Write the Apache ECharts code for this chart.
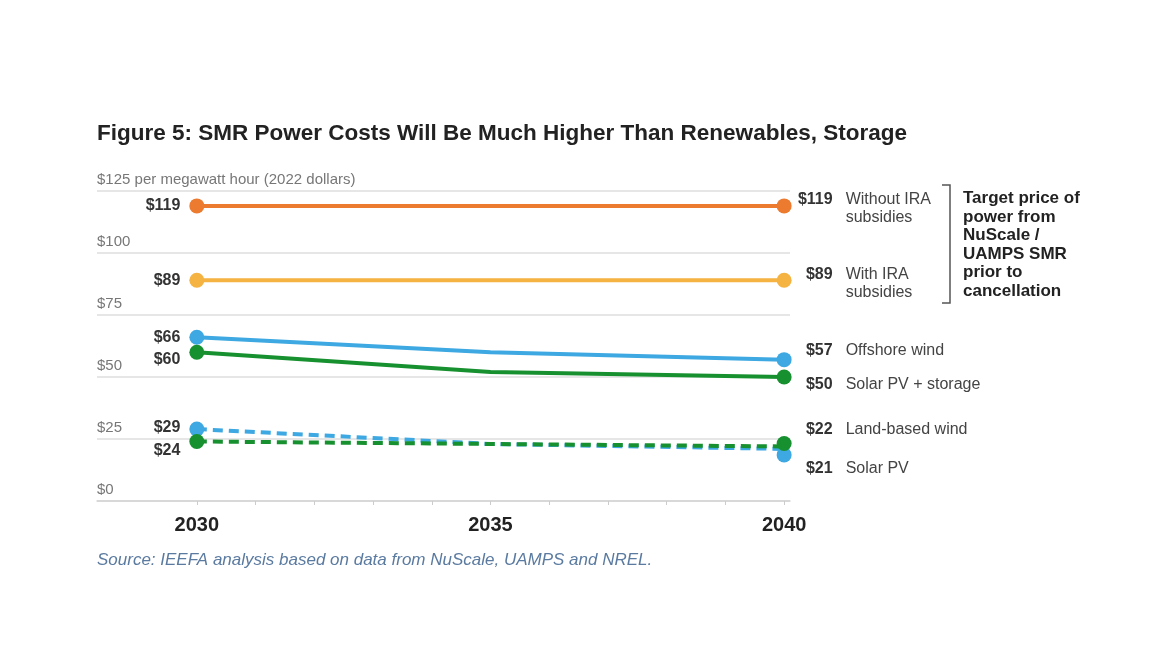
<!DOCTYPE html>
<html>
<head>
<meta charset="utf-8">
<script src="https://cdn.jsdelivr.net/npm/echarts@6/dist/echarts.min.js"></script>
<style>
html,body{margin:0;padding:0;background:#fff;}
#chart{width:1170px;height:669px;}
</style>
</head>
<body>
<div id="chart"></div>
<script>
// ---- Data ----
const years = [2030, 2035, 2040];
const xLabelYears = [2030, 2035, 2040];
const xTickYears = [2030, 2031, 2032, 2033, 2034, 2035, 2036, 2037, 2038, 2039, 2040];

const withoutIRA = [119, 119, 119];
const withIRA = [89, 89, 89];
const offshoreWind = [66, 60, 57];
const solarStorage = [60, 52, 50];
const dashedBlue = [29, 23, 21];
const dashedGreen = [24, 23, 22];

const rightNames = {
  withoutIRA: ['Without IRA', 'subsidies'],
  withIRA: ['With IRA', 'subsidies'],
  offshoreWind: ['Offshore wind'],
  solarStorage: ['Solar PV + storage'],
  dashedGreen: ['Land-based wind'],
  dashedBlue: ['Solar PV']
};

const title = 'Figure 5: SMR Power Costs Will Be Much Higher Than Renewables, Storage';
const yAxisTitle = '$125 per megawatt hour (2022 dollars)';
const bracketText = 'Target price of\npower from\nNuScale /\nUAMPS SMR\nprior to\ncancellation';
const source = 'Source: IEEFA analysis based on data from NuScale, UAMPS and NREL.';

// ---- Styles ----
const SANS = '"Liberation Sans", Arial, sans-serif';
const C = {
  orange: '#EC7A2F', yellow: '#F5B342', blue: '#3DA8E1', green: '#17902F'
};
const VAL_FONT = 'bold 16px "Liberation Sans", Arial, sans-serif';
const measureCtx = document.createElement('canvas').getContext('2d');
function textW(t, font) { measureCtx.font = font; return measureCtx.measureText(t).width; }

function build(values, names, opts) {
  return values.map((v, i) => {
    const item = { value: [years[i], v] };
    if (i === 0) {
      item.symbolSize = 15;
      item.label = {
        show: true, position: 'left', distance: 9,
        offset: [0, opts.leftOff || 0],
        formatter: '$' + v,
        fontFamily: SANS, fontWeight: 'bold', fontSize: 16, color: '#333'
      };
    } else if (i === values.length - 1) {
      item.symbolSize = 15;
      if (opts.endSymOff) item.symbolOffset = [0, opts.endSymOff];
      const vt = '$' + v;
      const padL = Math.max(0, 37 - textW(vt, VAL_FONT));
      let f = '{v|' + vt + '}{n|' + names[0] + '}';
      if (names[1]) f += '\n{e|}{n|' + names[1] + '}';
      item.label = {
        show: true, position: 'right', distance: 4, align: 'left',
        offset: [0, opts.rightOff || 0],
        formatter: f,
        rich: {
          v: { align: 'left', padding: [0, 0, 0, padL], fontFamily: SANS, fontWeight: 'bold', fontSize: 16, color: '#333', lineHeight: 18 },
          e: { align: 'left', width: 37, height: 18, lineHeight: 18 },
          n: { align: 'left', padding: [0, 0, 0, 13], fontFamily: SANS, fontSize: 16, color: '#444', lineHeight: 18 }
        }
      };
    } else {
      item.symbolSize = 0;
      item.symbol = 'none';
    }
    return item;
  });
}

function line(name, values, color, dashed, opts) {
  return {
    name: name, type: 'line', clip: false,
    data: build(values, rightNames[name], opts),
    symbol: 'circle', showSymbol: true,
    itemStyle: { color: color },
    lineStyle: { color: color, width: 4, type: dashed ? [10, 6] : 'solid', cap: 'butt' },
    emphasis: { disabled: true },
    z: opts.z || 2
  };
}

const chart = echarts.init(document.getElementById('chart'), null, { renderer: 'canvas' });
chart.setOption({
  backgroundColor: '#fff',
  animation: false,
  title: {
    text: title, left: 92, top: 117,
    textStyle: { fontFamily: SANS, fontWeight: 'bold', fontSize: 22.5, color: '#222' }
  },
  grid: { left: 97, right: 380, top: 191, bottom: 168, containLabel: false },
  xAxis: {
    type: 'value', min: 2028.3, max: 2040.1,
    axisLine: { show: true, lineStyle: { color: '#d4d4d4', width: 1.5 } },
    axisTick: { show: true, length: 4, lineStyle: { color: '#ccc' }, customValues: xTickYears },
    axisLabel: {
      customValues: xLabelYears, margin: 14,
      fontFamily: SANS, fontWeight: 'bold', fontSize: 20, color: '#222',
      formatter: v => String(v)
    },
    splitLine: { show: false }
  },
  yAxis: {
    type: 'value', min: 0, max: 125, interval: 25,
    axisLine: { show: false }, axisTick: { show: false },
    axisLabel: {
      inside: true, margin: 0, verticalAlign: 'bottom', padding: [0, 0, 4, 0],
      fontFamily: SANS, fontSize: 15, color: '#777',
      formatter: v => v === 125 ? yAxisTitle : '$' + v
    },
    splitLine: { show: true, lineStyle: { color: '#dedede', width: 1.5 } }
  },
  series: [
    line('withoutIRA', withoutIRA, C.orange, false, { rightOff: 3 }),
    line('withIRA', withIRA, C.yellow, false, { rightOff: 3 }),
    line('offshoreWind', offshoreWind, C.blue, false, { rightOff: -9 }),
    line('solarStorage', solarStorage, C.green, false, { leftOff: 7, rightOff: 8, z: 3 }),
    line('dashedBlue', dashedBlue, C.blue, true, { leftOff: -1, rightOff: 14, endSymOff: 6 }),
    line('dashedGreen', dashedGreen, C.green, true, { leftOff: 9, rightOff: -14, endSymOff: -3, z: 3 })
  ],
  graphic: [
    { type: 'polyline', shape: { points: [[942, 185], [950, 185], [950, 303], [942, 303]] },
      style: { stroke: '#555', lineWidth: 1.5, fill: null } },
    { type: 'text', left: 963, top: 189,
      style: { text: bracketText, fontFamily: SANS, fontWeight: 'bold', fontSize: 17, lineHeight: 18.6, fill: '#222' } },
    { type: 'text', left: 97, top: 552,
      style: { text: source, fontFamily: SANS, fontStyle: 'italic', fontSize: 17, fill: '#5a7aa0' } }
  ]
});
</script>
</body>
</html>
